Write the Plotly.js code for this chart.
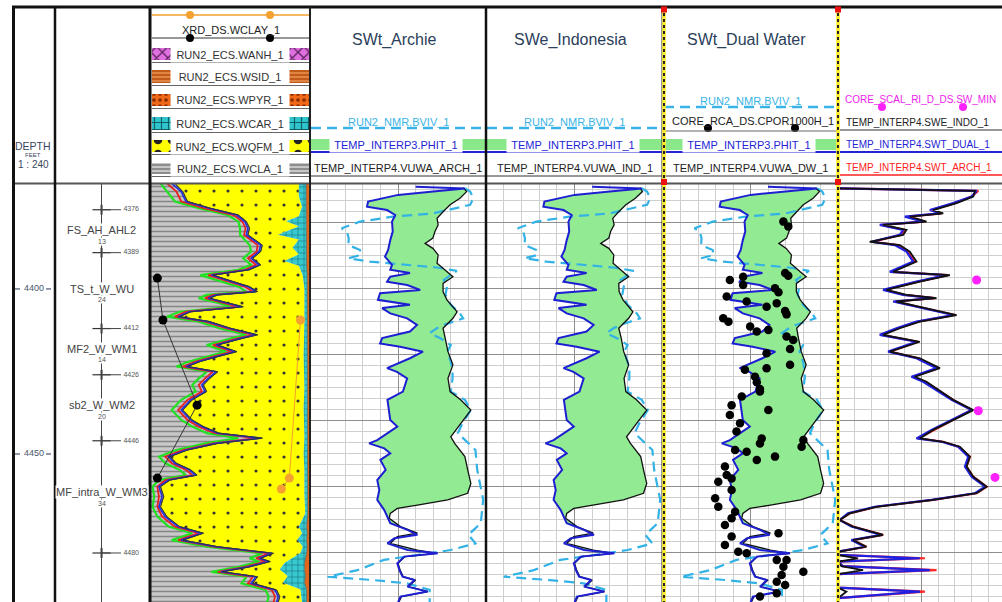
<!DOCTYPE html>
<html>
<head>
<meta charset="utf-8">
<script src="https://cdn.plot.ly/plotly-3.0.1.min.js"></script>
<style>
html,body{margin:0;padding:0;background:#ffffff;}
#chart{width:1002px;height:602px;}
</style>
</head>
<body>
<div id="chart"></div>
<script>
// ================= DATA =================
const depthTicks = [4400, 4450];

const zoneNames = ['FS_AH_AHL2', 'TS_t_W_WU', 'MF2_W_WM1', 'sb2_W_WM2', 'MF_intra_W_WM3'];
const zoneLabelDepth = [4382.2, 4399.9, 4418.1, 4435.2, 4461.6];
const zoneThickness = ['13', '24', '14', '20', '34'];
const markerDepth = [4376, 4389, 4412, 4426, 4446, 4480];
const markerLabels = ['4376', '4389', '4412', '4426', '4446', '4480'];

// Lithology (ECS) cumulative fractions, 0 = left edge, 1 = right edge
const lithoDepth = [4368.0,4370.5,4373.5,4375.5,4377.6,4379.6,4381.6,4383.6,4386.7,4388.7,4390.7,4392.7,4394.2,4395.8,4397.8,4399.3,4400.8,4401.8,4402.8,4404.3,4405.4,4406.9,4408.4,4409.9,4411.9,4413.9,4414.9,4417.0,4419.0,4420.5,4422.0,4423.5,4425.1,4427.1,4429.1,4431.1,4433.6,4436.7,4439.7,4441.7,4443.7,4445.2,4446.8,4448.8,4450.8,4452.8,4454.8,4456.4,4457.9,4459.9,4462.9,4466.0,4469.0,4472.0,4474.0,4476.1,4478.1,4480.1,4481.6,4482.6,4484.2,4485.7,4487.2,4489.2,4491.2,4493.2,4495.0];
const wclaEdge = [0.15,0.20,0.23,0.37,0.55,0.60,0.62,0.61,0.70,0.69,0.64,0.69,0.62,0.39,0.52,0.62,0.67,0.42,0.37,0.50,0.58,0.25,0.18,0.37,0.50,0.67,0.58,0.42,0.54,0.42,0.31,0.23,0.42,0.37,0.33,0.35,0.26,0.20,0.26,0.33,0.43,0.70,0.42,0.23,0.12,0.16,0.25,0.29,0.12,0.06,0.08,0.06,0.10,0.18,0.33,0.20,0.42,0.77,0.69,0.75,0.62,0.45,0.67,0.64,0.79,0.81,0.80];
const clayCurveGreen = [0.06,0.10,0.15,0.30,0.48,0.55,0.56,0.56,0.62,0.63,0.58,0.63,0.55,0.31,0.45,0.55,0.60,0.35,0.30,0.43,0.50,0.18,0.10,0.30,0.43,0.60,0.51,0.35,0.47,0.35,0.24,0.16,0.35,0.30,0.26,0.28,0.19,0.13,0.19,0.26,0.35,0.55,0.34,0.16,0.05,0.09,0.18,0.22,0.05,0.01,0.02,0.01,0.04,0.11,0.26,0.13,0.35,0.70,0.62,0.68,0.55,0.38,0.60,0.57,0.72,0.74,0.73];
const clayCurveRed = [0.10,0.16,0.19,0.33,0.52,0.575,0.595,0.585,0.67,0.665,0.61,0.66,0.59,0.36,0.49,0.59,0.64,0.39,0.34,0.47,0.55,0.22,0.15,0.34,0.47,0.64,0.55,0.39,0.51,0.39,0.28,0.20,0.39,0.34,0.30,0.32,0.23,0.17,0.23,0.30,0.40,0.66,0.39,0.20,0.09,0.13,0.22,0.26,0.09,0.04,0.05,0.04,0.07,0.15,0.30,0.17,0.39,0.74,0.66,0.72,0.59,0.42,0.64,0.61,0.76,0.78,0.77];
const clayCurveBlue = [0.13,0.19,0.22,0.36,0.54,0.59,0.61,0.60,0.69,0.68,0.63,0.68,0.61,0.38,0.51,0.61,0.66,0.41,0.36,0.49,0.57,0.24,0.17,0.36,0.49,0.66,0.57,0.41,0.53,0.41,0.30,0.22,0.41,0.36,0.32,0.34,0.25,0.19,0.25,0.32,0.42,0.69,0.41,0.22,0.11,0.15,0.24,0.28,0.11,0.05,0.07,0.05,0.09,0.17,0.32,0.19,0.41,0.76,0.68,0.74,0.61,0.44,0.66,0.63,0.78,0.80,0.79];

const carbDepth = [4368,4372,4375,4378,4379.5,4381,4383.6,4385,4387.5,4389.5,4391.5,4393,4396,4400,4410,4420,4430,4436,4445,4450,4455,4462,4468,4472,4474,4476,4478,4480,4483,4485,4487,4489,4491,4495];
const wqfmEdge = [0.93,0.93,0.95,0.93,0.85,0.93,0.80,0.93,0.89,0.93,0.84,0.93,0.955,0.965,0.965,0.96,0.965,0.96,0.965,0.96,0.965,0.965,0.97,0.93,0.95,0.92,0.955,0.94,0.84,0.81,0.86,0.83,0.94,0.95];
const wcarEdge = [0.975,0.975,0.978,0.975,0.975,0.978,0.975,0.978,0.975,0.978,0.975,0.978,0.982,0.982,0.985,0.982,0.985,0.982,0.985,0.982,0.985,0.985,0.985,0.978,0.982,0.978,0.982,0.978,0.965,0.965,0.97,0.965,0.978,0.978];
const wpyrEdge = [0.995, 0.995];
const edgeDepth = [4368, 4496];

const xrdClayDepth = [4396.7, 4409.4, 4435.2, 4457.3];
const xrdClay = [0.04, 0.075, 0.29, 0.04];
const xrdOrangeDepth = [4409.4, 4457.3, 4460.6];
const xrdOrange = [0.94, 0.87, 0.82];

// Porosity tracks (v/v, scale 0.5 left -> 0 right)
const phitDepth = [4369.0,4369.6,4370.5,4371.5,4373.5,4375.1,4376.1,4377.6,4379.6,4382.6,4385.2,4388.2,4390.2,4392.7,4394.2,4395.2,4396.3,4397.8,4398.8,4400.3,4401.3,4403.3,4404.8,4405.8,4407.4,4408.9,4410.9,4412.9,4414.9,4416.5,4417.5,4419.0,4421.0,4424.0,4425.1,4427.1,4429.1,4431.1,4433.6,4436.7,4439.7,4441.7,4443.7,4445.8,4446.8,4448.3,4449.8,4451.8,4454.8,4457.9,4460.9,4463.9,4467.0,4469.0,4471.0,4473.0,4474.5,4475.5,4477.1,4479.1,4480.1,4481.1,4483.1,4485.2,4487.2,4488.2,4490.2,4491.7,4493.2,4495.0];
const phit = [0.20,0.06,0.15,0.25,0.335,0.338,0.281,0.258,0.267,0.265,0.272,0.278,0.287,0.267,0.272,0.216,0.272,0.281,0.224,0.187,0.301,0.307,0.216,0.295,0.272,0.224,0.196,0.216,0.295,0.301,0.244,0.179,0.216,0.281,0.253,0.224,0.23,0.236,0.28,0.275,0.272,0.252,0.28,0.309,0.332,0.289,0.272,0.30,0.285,0.309,0.303,0.309,0.289,0.28,0.272,0.223,0.195,0.26,0.28,0.223,0.137,0.232,0.252,0.246,0.237,0.203,0.223,0.166,0.243,0.25];

const vuwaDepth = [4369.3,4370.5,4372.5,4374.5,4376.6,4378.6,4380.6,4382.6,4384.6,4386.2,4387.7,4389.7,4392.2,4394.8,4396.3,4398.3,4400.8,4403.3,4406.9,4408.9,4411.9,4414.9,4419.0,4423.0,4427.1,4431.1,4433.6,4436.7,4440.7,4444.8,4446.8,4450.8,4454.8,4458.9,4461.9,4463.9,4465.5,4466.5,4468.0,4469.5,4472.0,4474.0,4475.0,4477.1,4479.1,4480.1,4481.1,4483.1,4485.2,4487.2,4488.2,4490.2,4491.7,4493.2,4495.0];
const vuwaArch = [0.065,0.055,0.074,0.102,0.122,0.139,0.136,0.145,0.151,0.173,0.151,0.136,0.139,0.111,0.094,0.122,0.122,0.111,0.082,0.094,0.122,0.116,0.108,0.094,0.108,0.102,0.072,0.043,0.072,0.10,0.089,0.06,0.052,0.043,0.052,0.109,0.195,0.252,0.272,0.275,0.243,0.195,0.252,0.272,0.195,0.14,0.23,0.25,0.244,0.235,0.2,0.22,0.165,0.24,0.248];
const vuwaInd = [0.065,0.058,0.078,0.105,0.125,0.142,0.138,0.148,0.153,0.176,0.153,0.139,0.141,0.114,0.097,0.125,0.124,0.113,0.085,0.097,0.125,0.118,0.111,0.097,0.11,0.105,0.075,0.046,0.075,0.103,0.092,0.063,0.055,0.046,0.055,0.112,0.198,0.252,0.272,0.275,0.243,0.197,0.252,0.272,0.197,0.14,0.23,0.25,0.244,0.235,0.2,0.22,0.165,0.24,0.248];
const vuwaDW = [0.065,0.053,0.071,0.099,0.118,0.135,0.133,0.141,0.147,0.169,0.148,0.133,0.136,0.108,0.091,0.119,0.119,0.108,0.079,0.091,0.118,0.113,0.105,0.091,0.105,0.099,0.07,0.041,0.07,0.098,0.087,0.058,0.05,0.041,0.05,0.107,0.193,0.252,0.272,0.275,0.243,0.193,0.252,0.272,0.193,0.14,0.23,0.25,0.244,0.235,0.2,0.22,0.165,0.24,0.248];

const bvivDepth = [4369.5,4370.5,4372.5,4374.5,4377.1,4378.1,4379.6,4381.6,4382.6,4384.6,4386.7,4388.2,4389.7,4390.7,4391.7,4392.7,4393.5,4394.5,4395.8,4397.3,4398.8,4401.8,4404.8,4407.4,4408.9,4410.9,4411.9,4413.4,4414.9,4417.0,4419.0,4422.0,4425.1,4427.1,4431.1,4433.6,4436.7,4440.7,4443.7,4448.8,4454.8,4459.9,4463.9,4468.0,4471.0,4473.0,4474.5,4477.1,4479.1,4480.6,4482.1,4485.2,4487.2,4488.2,4489.2,4491.2,4493.6,4495.0];
const bviv = [0.06,0.045,0.036,0.045,0.15,0.265,0.358,0.41,0.395,0.39,0.391,0.358,0.355,0.391,0.33,0.225,0.14,0.083,0.10,0.12,0.11,0.115,0.10,0.074,0.065,0.12,0.14,0.16,0.13,0.10,0.11,0.10,0.095,0.095,0.10,0.06,0.043,0.067,0.08,0.03,0.025,0.015,0.008,0.012,0.015,0.035,0.05,0.03,0.10,0.195,0.29,0.365,0.45,0.32,0.225,0.16,0.16,0.16];

const cporDepth = [4379.6,4381.1,4395.2,4396.0,4397.3,4396.3,4398.8,4399.8,4401.0,4402.3,4403.8,4405.4,4404.3,4406.7,4407.7,4408.9,4409.9,4411.4,4412.9,4412.4,4414.4,4415.5,4418.2,4419.5,4423.0,4424.5,4424.0,4426.6,4428.3,4430.3,4431.1,4432.6,4435.2,4436.7,4438.2,4440.7,4443.2,4445.3,4446.8,4445.8,4447.8,4448.8,4449.3,4451.8,4450.8,4453.8,4456.4,4457.4,4458.4,4460.9,4463.4,4466.0,4467.5,4469.5,4471.5,4474.0,4475.0,4477.6,4479.6,4480.1,4482.1,4482.1,4484.2,4485.7,4486.7,4488.7,4489.7,4492.2,4493.2];
const cpor = [0.156,0.142,0.151,0.142,0.309,0.271,0.271,0.18,0.17,0.318,0.261,0.204,0.175,0.151,0.147,0.328,0.313,0.251,0.232,0.199,0.147,0.128,0.137,0.204,0.137,0.266,0.204,0.237,0.232,0.223,0.223,0.275,0.304,0.199,0.309,0.28,0.29,0.218,0.223,0.099,0.104,0.294,0.261,0.232,0.18,0.323,0.318,0.304,0.342,0.304,0.351,0.342,0.294,0.304,0.323,0.17,0.304,0.323,0.285,0.261,0.175,0.147,0.156,0.099,0.161,0.175,0.151,0.175,0.223];

// Saturation track (scale 1 left -> 0 right)
const swDepth = [4369.5,4370.3,4372.0,4374.0,4376.1,4377.1,4378.1,4379.6,4380.6,4382.1,4383.6,4385.7,4386.7,4388.7,4391.7,4394.8,4395.8,4397.8,4400.3,4401.8,4402.8,4403.8,4405.4,4407.9,4409.9,4411.9,4413.9,4416.0,4419.0,4421.0,4424.0,4426.6,4428.1,4430.1,4433.6,4436.7,4440.7,4442.7,4445.3,4446.3,4447.8,4450.8,4453.8,4456.9,4459.9,4461.9,4463.9,4466.0,4468.0,4470.0,4472.0,4474.5,4476.1,4478.1,4479.6,4480.6,4481.6,4482.6,4484.0,4485.2,4486.4,4488.0,4490.5,4491.7,4493.7,4495.0];
const sweIndo = [1.0,0.18,0.19,0.29,0.43,0.37,0.57,0.47,0.73,0.59,0.61,0.81,0.63,0.57,0.53,0.67,0.33,0.51,0.71,0.59,0.41,0.65,0.51,0.29,0.51,0.63,0.73,0.51,0.69,0.51,0.39,0.54,0.47,0.41,0.31,0.19,0.35,0.43,0.51,0.37,0.27,0.21,0.23,0.19,0.11,0.17,0.43,0.77,0.93,0.99,0.91,0.73,0.91,0.83,0.99,1.0,0.88,1.0,0.98,0.85,1.0,1.0,1.0,0.95,1.0,1.0];
const swtDual = [1.0,0.17,0.2,0.31,0.45,0.39,0.6,0.49,0.75,0.61,0.63,0.8,0.66,0.59,0.55,0.69,0.35,0.53,0.73,0.61,0.43,0.67,0.53,0.31,0.53,0.65,0.75,0.53,0.7,0.53,0.41,0.56,0.49,0.43,0.32,0.2,0.36,0.44,0.53,0.38,0.28,0.22,0.24,0.2,0.12,0.18,0.44,0.78,0.94,0.99,0.92,0.74,0.92,0.84,1.0,1.0,0.51,1.0,0.97,0.45,1.0,1.0,1.0,0.51,1.0,1.0];
const swtArch = [1.0,0.16,0.2,0.3,0.44,0.38,0.58,0.48,0.74,0.6,0.62,0.79,0.64,0.58,0.54,0.68,0.34,0.52,0.72,0.6,0.42,0.66,0.52,0.3,0.52,0.64,0.74,0.52,0.69,0.52,0.4,0.55,0.48,0.42,0.31,0.2,0.35,0.43,0.52,0.37,0.28,0.21,0.23,0.19,0.11,0.17,0.43,0.77,0.93,0.99,0.91,0.73,0.91,0.83,1.0,1.0,0.48,1.0,0.97,0.41,1.0,1.0,1.0,0.48,1.0,1.0];
const swMinDepth = [4397.3, 4436.9, 4457.1];
const swMin = [0.17, 0.16, 0.06];

// ================= LAYOUT HELPERS =================
const W = 1002, H = 602, DATA_TOP = 184;
const FONT = 'Liberation Sans, Arial, sans-serif';
const DEPTH_RANGE = [4494.85, 4368.2];
const px = x => x / W, py = y => 1 - y / H;

const layout = {
  width: W, height: H, margin: {l: 0, r: 0, t: 0, b: 0},
  paper_bgcolor: '#ffffff', plot_bgcolor: 'rgba(0,0,0,0)',
  showlegend: false, hovermode: false, shapes: [], annotations: []
};

const tracks = [
  {l: 13, r: 55, xr: [0, 1]},
  {l: 55, r: 150, xr: [0, 1]},
  {l: 151, r: 310, xr: [0, 1]},
  {l: 310, r: 486, xr: [0.5, 0], grid: 'phi'},
  {l: 486, r: 663, xr: [0.5, 0], grid: 'phi'},
  {l: 663, r: 838, xr: [0.5, 0], grid: 'phi'},
  {l: 838, r: 1002, xr: [1, 0.018], grid: 'sw'}
];
const MAJ = '#8e8e8e', MIN = '#cfcfcf';
tracks.forEach((t, i) => {
  const s = i === 0 ? '' : String(i + 1);
  const xa = {domain: [px(t.l), px(t.r)], anchor: 'y' + s, range: t.xr, showticklabels: false,
    ticks: '', zeroline: false, showline: false, showgrid: false, fixedrange: true};
  const ya = {domain: [0, py(DATA_TOP)], anchor: 'x' + s, range: DEPTH_RANGE, showticklabels: false,
    ticks: '', zeroline: false, showline: false, showgrid: false, fixedrange: true};
  if (t.grid) {
    const d = t.grid === 'phi' ? [0.25, 0.05] : [0.5, 0.1];
    Object.assign(xa, {showgrid: true, tick0: 0, dtick: d[0], gridcolor: MAJ, gridwidth: 1,
      minor: {tick0: 0, dtick: d[1], showgrid: true, gridcolor: MIN, gridwidth: 1}});
    Object.assign(ya, {showgrid: true, tick0: 0, dtick: 20, gridcolor: MAJ, gridwidth: 1,
      minor: {tick0: 0, dtick: 20 / 6, showgrid: true, gridcolor: MIN, gridwidth: 1}});
  }
  layout['xaxis' + s] = xa;
  layout['yaxis' + s] = ya;
});
// header axis for lithology legend bands (pixel units)
layout.xaxis8 = {domain: [px(151), px(310)], anchor: 'y8', range: [151, 310], visible: false, fixedrange: true};
layout.yaxis8 = {domain: [py(183), py(7)], anchor: 'x8', range: [183, 7], visible: false, fixedrange: true};

function ann(x, y, text, size, color, extra) {
  layout.annotations.push(Object.assign({xref: 'paper', yref: 'paper', x: px(x), y: py(y), text: text,
    showarrow: false, xanchor: 'center', yanchor: 'middle',
    font: {family: FONT, size: size, color: color}}, extra || {}));
}
function hline(x0, x1, y, color, width, dash) {
  layout.shapes.push({type: 'line', xref: 'paper', yref: 'paper', x0: px(x0), x1: px(x1), y0: py(y), y1: py(y),
    line: {color: color, width: width, dash: dash || 'solid'}});
}
function vline(x, y0, y1, color, width, dash) {
  layout.shapes.push({type: 'line', xref: 'paper', yref: 'paper', x0: px(x), x1: px(x), y0: py(y0), y1: py(y1),
    line: {color: color, width: width, dash: dash || 'solid'}});
}
function rect(x0, y0, x1, y1, fill) {
  layout.shapes.push({type: 'rect', xref: 'paper', yref: 'paper', x0: px(x0), x1: px(x1), y0: py(y1), y1: py(y0),
    fillcolor: fill, line: {width: 0}, layer: 'below'});
}
function dot(x, y, r, color) {
  layout.shapes.push({type: 'circle', xref: 'paper', yref: 'paper', x0: px(x - r), x1: px(x + r), y0: py(y + r), y1: py(y - r),
    fillcolor: color, line: {width: 0}});
}

// ================= TRACES =================
const traces = [];
const T = (o) => traces.push(Object.assign({type: 'scatter', hoverinfo: 'skip'}, o));

// Depth track
T({x: depthTicks.map(() => 0.5), y: depthTicks, mode: 'text', text: depthTicks.map(String),
  textfont: {family: FONT, size: 9, color: '#4a5670'}, xaxis: 'x', yaxis: 'y'});
depthTicks.forEach(d => {
  layout.shapes.push({type: 'line', xref: 'paper', yref: 'y', x0: px(15), x1: px(20), y0: d, y1: d, line: {color: '#4a5670', width: 1.2}});
  layout.shapes.push({type: 'line', xref: 'paper', yref: 'y', x0: px(46), x1: px(51), y0: d, y1: d, line: {color: '#4a5670', width: 1.2}});
});

// Zone track
const ZC = 0.49;
layout.shapes.push({type: 'line', xref: 'paper', yref: 'paper', x0: px(101.5), x1: px(101.5), y0: 0, y1: py(DATA_TOP), line: {color: '#444', width: 1}});
markerDepth.forEach(d => {
  layout.shapes.push({type: 'line', xref: 'paper', yref: 'y2', x0: px(101.5), x1: px(121), y0: d, y1: d, line: {color: '#444', width: 1}});
});
T({x: markerDepth.map(() => ZC), y: markerDepth, mode: 'markers', xaxis: 'x2', yaxis: 'y2',
  marker: {symbol: 'line-ew', size: 13, line: {width: 1.2, color: '#333'}}});
T({x: markerDepth.map(() => ZC), y: markerDepth, mode: 'markers', xaxis: 'x2', yaxis: 'y2',
  marker: {symbol: 'line-ns', size: 7, line: {width: 2, color: '#333'}}});
T({x: markerDepth.map(() => 0.72), y: markerDepth, mode: 'text', text: markerLabels, textposition: 'middle right',
  textfont: {family: FONT, size: 7, color: '#555'}, xaxis: 'x2', yaxis: 'y2'});
zoneNames.forEach((n, i) => {
  layout.annotations.push({xref: 'paper', yref: 'y2', x: px(101.5), y: zoneLabelDepth[i], text: n, showarrow: false,
    xanchor: 'center', yanchor: 'middle', bgcolor: '#ffffff', borderpad: 0,
    font: {family: FONT, size: 11, color: '#444'}});
  layout.annotations.push({xref: 'paper', yref: 'y2', x: px(102), y: zoneLabelDepth[i] + 3.3, text: zoneThickness[i], showarrow: false,
    xanchor: 'center', yanchor: 'middle', bgcolor: '#ffffff', borderpad: 0, font: {family: FONT, size: 7, color: '#555'}});
});

// Lithology track
T({x: [0, 0], y: edgeDepth, mode: 'lines', line: {width: 0}, xaxis: 'x3', yaxis: 'y3'});
T({x: wclaEdge, y: lithoDepth, mode: 'lines', line: {width: 0.8, color: '#444'}, fill: 'tonextx', fillcolor: '#c4c4c4',
  fillpattern: {shape: '-', fgcolor: '#858585', bgcolor: '#c8c8c8', size: 5, solidity: 0.3}, xaxis: 'x3', yaxis: 'y3'});
T({x: wqfmEdge, y: carbDepth, mode: 'lines', line: {width: 0}, fill: 'tonextx', fillcolor: '#ffff00',
  fillpattern: {shape: '.', fgcolor: '#333', bgcolor: '#ffff00', size: 14, solidity: 0.04}, xaxis: 'x3', yaxis: 'y3'});
T({x: wcarEdge, y: carbDepth, mode: 'lines', line: {width: 0.6, color: '#1a6a70'}, fill: 'tonextx', fillcolor: '#38c8d0',
  fillpattern: {shape: '+', fgcolor: '#17777d', bgcolor: '#38c8d0', size: 6, solidity: 0.2}, xaxis: 'x3', yaxis: 'y3'});
T({x: wpyrEdge, y: edgeDepth, mode: 'lines', line: {width: 0}, fill: 'tonextx', fillcolor: '#e0661c', xaxis: 'x3', yaxis: 'y3'});
T({x: clayCurveGreen, y: lithoDepth, mode: 'lines', line: {color: '#22e022', width: 2.2}, xaxis: 'x3', yaxis: 'y3'});
T({x: clayCurveRed, y: lithoDepth, mode: 'lines', line: {color: '#e82020', width: 1.8}, xaxis: 'x3', yaxis: 'y3'});
T({x: clayCurveBlue, y: lithoDepth, mode: 'lines', line: {color: '#2030e0', width: 1.6}, xaxis: 'x3', yaxis: 'y3'});
T({x: wclaEdge, y: lithoDepth, mode: 'lines', line: {color: '#333', width: 1}, xaxis: 'x3', yaxis: 'y3'});
T({x: xrdClay, y: xrdClayDepth, mode: 'lines+markers', line: {color: '#333', width: 1}, marker: {color: '#000', size: 9}, xaxis: 'x3', yaxis: 'y3'});
T({x: xrdOrange, y: xrdOrangeDepth, mode: 'lines+markers', line: {color: '#f5a030', width: 1}, marker: {color: '#f5a030', size: 9}, xaxis: 'x3', yaxis: 'y3'});

// Porosity tracks
function logTrack(n, vuwa, core) {
  const xa = 'x' + n, ya = 'y' + n;
  T({x: phit, y: phitDepth, mode: 'lines', line: {width: 0, color: 'rgba(0,0,0,0)'}, xaxis: xa, yaxis: ya});
  T({x: vuwa, y: vuwaDepth, mode: 'lines', line: {width: 0, color: 'rgba(0,0,0,0)'}, fill: 'tonextx', fillcolor: '#92ea92', xaxis: xa, yaxis: ya});
  T({x: bviv, y: bvivDepth, mode: 'lines', line: {color: '#33b2e6', width: 2.2, dash: '10px,6px'}, xaxis: xa, yaxis: ya});
  T({x: vuwa, y: vuwaDepth, mode: 'lines', line: {color: '#111', width: 1.3}, xaxis: xa, yaxis: ya});
  T({x: phit, y: phitDepth, mode: 'lines', line: {color: '#1f1fd2', width: 2}, xaxis: xa, yaxis: ya});
  if (core) T({x: cpor, y: cporDepth, mode: 'markers', marker: {color: '#000', size: 8.5}, xaxis: xa, yaxis: ya});
}
logTrack(4, vuwaArch, false);
logTrack(5, vuwaInd, false);
logTrack(6, vuwaDW, true);

// Saturation track
T({x: swtArch, y: swDepth, mode: 'lines', line: {color: '#ff2a2a', width: 2.2}, xaxis: 'x7', yaxis: 'y7'});
T({x: swtDual, y: swDepth, mode: 'lines', line: {color: '#2020e0', width: 2.2}, xaxis: 'x7', yaxis: 'y7'});
T({x: sweIndo, y: swDepth, mode: 'lines', line: {color: '#111', width: 1.8}, xaxis: 'x7', yaxis: 'y7'});
T({x: swMin, y: swMinDepth, mode: 'markers', marker: {color: '#ff22ff', size: 9}, xaxis: 'x7', yaxis: 'y7'});

// ================= HEADER =================
// lithology legend bands
const bands = [
  {name: 'RUN2_ECS.WANH_1', top: 48, bot: 60, bg: '#e070e0', fg: '#5a205a', shape: 'x', size: 8},
  {name: 'RUN2_ECS.WSID_1', top: 70, bot: 83, bg: '#c05a18', fg: '#f4a060', shape: '-', size: 4},
  {name: 'RUN2_ECS.WPYR_1', top: 94, bot: 106, bg: '#f06818', fg: '#8a2e00', shape: '.', size: 6},
  {name: 'RUN2_ECS.WCAR_1', top: 117, bot: 130, bg: '#30c4cc', fg: '#0d6066', shape: '+', size: 7},
  {name: 'RUN2_ECS.WQFM_1', top: 140, bot: 152, bg: '#ffff00', fg: '#222', shape: '.', size: 14},
  {name: 'RUN2_ECS.WCLA_1', top: 163, bot: 174, bg: '#c6c6c6', fg: '#666', shape: '-', size: 4}
];
bands.forEach(b => {
  T({x: [152, 309, 309, 152, 152], y: [b.top, b.top, b.bot, b.bot, b.top], mode: 'lines', line: {width: 0},
    fill: 'toself', fillcolor: b.bg, fillpattern: {shape: b.shape, fgcolor: b.fg, bgcolor: b.bg, size: b.size, solidity: 0.3},
    xaxis: 'x8', yaxis: 'y8'});
  ann(230, (b.top + b.bot) / 2, b.name, 11, '#333', {bgcolor: '#ffffff', width: 116, height: 13});
  hline(152, 309, b.bot + 2.5, '#666', 1);
});
// XRD rows
hline(152, 309, 15, '#f5a030', 1.5);
dot(190, 15, 4, '#f5a030'); dot(270, 15, 4, '#f5a030');
ann(231, 30, 'XRD_DS.WCLAY_1', 11, '#222');
hline(152, 309, 38, '#333', 1.2);
dot(190, 38, 4, '#000'); dot(270, 38, 4, '#000');

// depth header
ann(33, 146, 'DEPTH', 10.5, '#3a4660');
ann(33, 155, 'FEET', 6, '#3a4660');
ann(33, 164, '1 : 240', 10, '#3a4660');

// log track headers
const TITLE_C = '#2b405a', CYAN = '#3ab4e6', BLUE = '#2424d4';
function phiHeader(l, r, title, vuwaName, bvivY, withCore) {
  const c = (l + r) / 2;
  ann(c - 4, 40, title, 16, TITLE_C);
  ann(c, bvivY - 6, 'RUN2_NMR.BVIV_1', 11, CYAN);
  hline(l + 1, r - 1, bvivY, CYAN, 2.5, '10px,6px');
  if (withCore) {
    ann(c + 2, 121, 'CORE_RCA_DS.CPOR1000H_1', 11, '#222');
    dot(708, 128, 4, '#000'); dot(795, 128, 4, '#000');
    hline(l + 1, r - 1, 131, '#666', 1);
  }
  rect(l + 1, 139, r - 1, 150, '#8ae88a');
  ann(c - 2, 145, 'TEMP_INTERP3.PHIT_1', 11, BLUE, {bgcolor: '#ffffff', width: 130, height: 13});
  hline(l + 1, r - 1, 152, BLUE, 2);
  ann(c, 168, vuwaName, 11, '#222');
  hline(l + 1, r - 1, 176, '#333', 1);
}
phiHeader(310, 486, 'SWt_Archie', 'TEMP_INTERP4.VUWA_ARCH_1', 128, false);
phiHeader(486, 663, 'SWe_Indonesia', 'TEMP_INTERP4.VUWA_IND_1', 128, false);
phiHeader(663, 838, 'SWt_Dual Water', 'TEMP_INTERP4.VUWA_DW_1', 107, true);

// saturation header
ann(843, 100, 'CORE_SCAL_RI_D_DS.SW_MIN', 10, '#ee22ee', {xanchor: 'left'});
dot(882, 107, 4, '#ff22ff'); dot(963, 107, 4, '#ff22ff');
ann(844, 122, 'TEMP_INTERP4.SWE_INDO_1', 10, '#222', {xanchor: 'left'});
hline(840, 1002, 130, '#333', 1.2);
ann(844, 145, 'TEMP_INTERP4.SWT_DUAL_1', 10, BLUE, {xanchor: 'left'});
hline(840, 1002, 152, BLUE, 2);
ann(844, 167, 'TEMP_INTERP4.SWT_ARCH_1', 10, '#ff2020', {xanchor: 'left'});
hline(840, 1002, 175, '#ff2020', 1.5);

// ================= FRAME =================
hline(12, 1002, 7, '#111', 3);
hline(12, 1002, 183.5, '#555', 2);
vline(13.5, 7, 602, '#111', 3);
vline(55, 7, 602, '#111', 2.5);
vline(150, 7, 602, '#111', 3);
vline(310, 7, 602, '#222', 2);
vline(486, 7, 602, '#111', 2.5);
vline(662, 7, 602, '#333', 1);
[664, 838].forEach(x => {
  vline(x, 7, 602, '#ffee22', 3.5);
  vline(x, 7, 602, '#222', 2, 'dot');
  [[x, 9.5], [x, 182]].forEach(p => {
    layout.shapes.push({type: 'rect', xref: 'paper', yref: 'paper', x0: px(p[0] - 3), x1: px(p[0] + 3),
      y0: py(p[1] + 3), y1: py(p[1] - 3), fillcolor: '#ee1111', line: {width: 0}});
  });
});

Plotly.newPlot('chart', traces, layout, {staticPlot: true, displayModeBar: false});
</script>
</body>
</html>
